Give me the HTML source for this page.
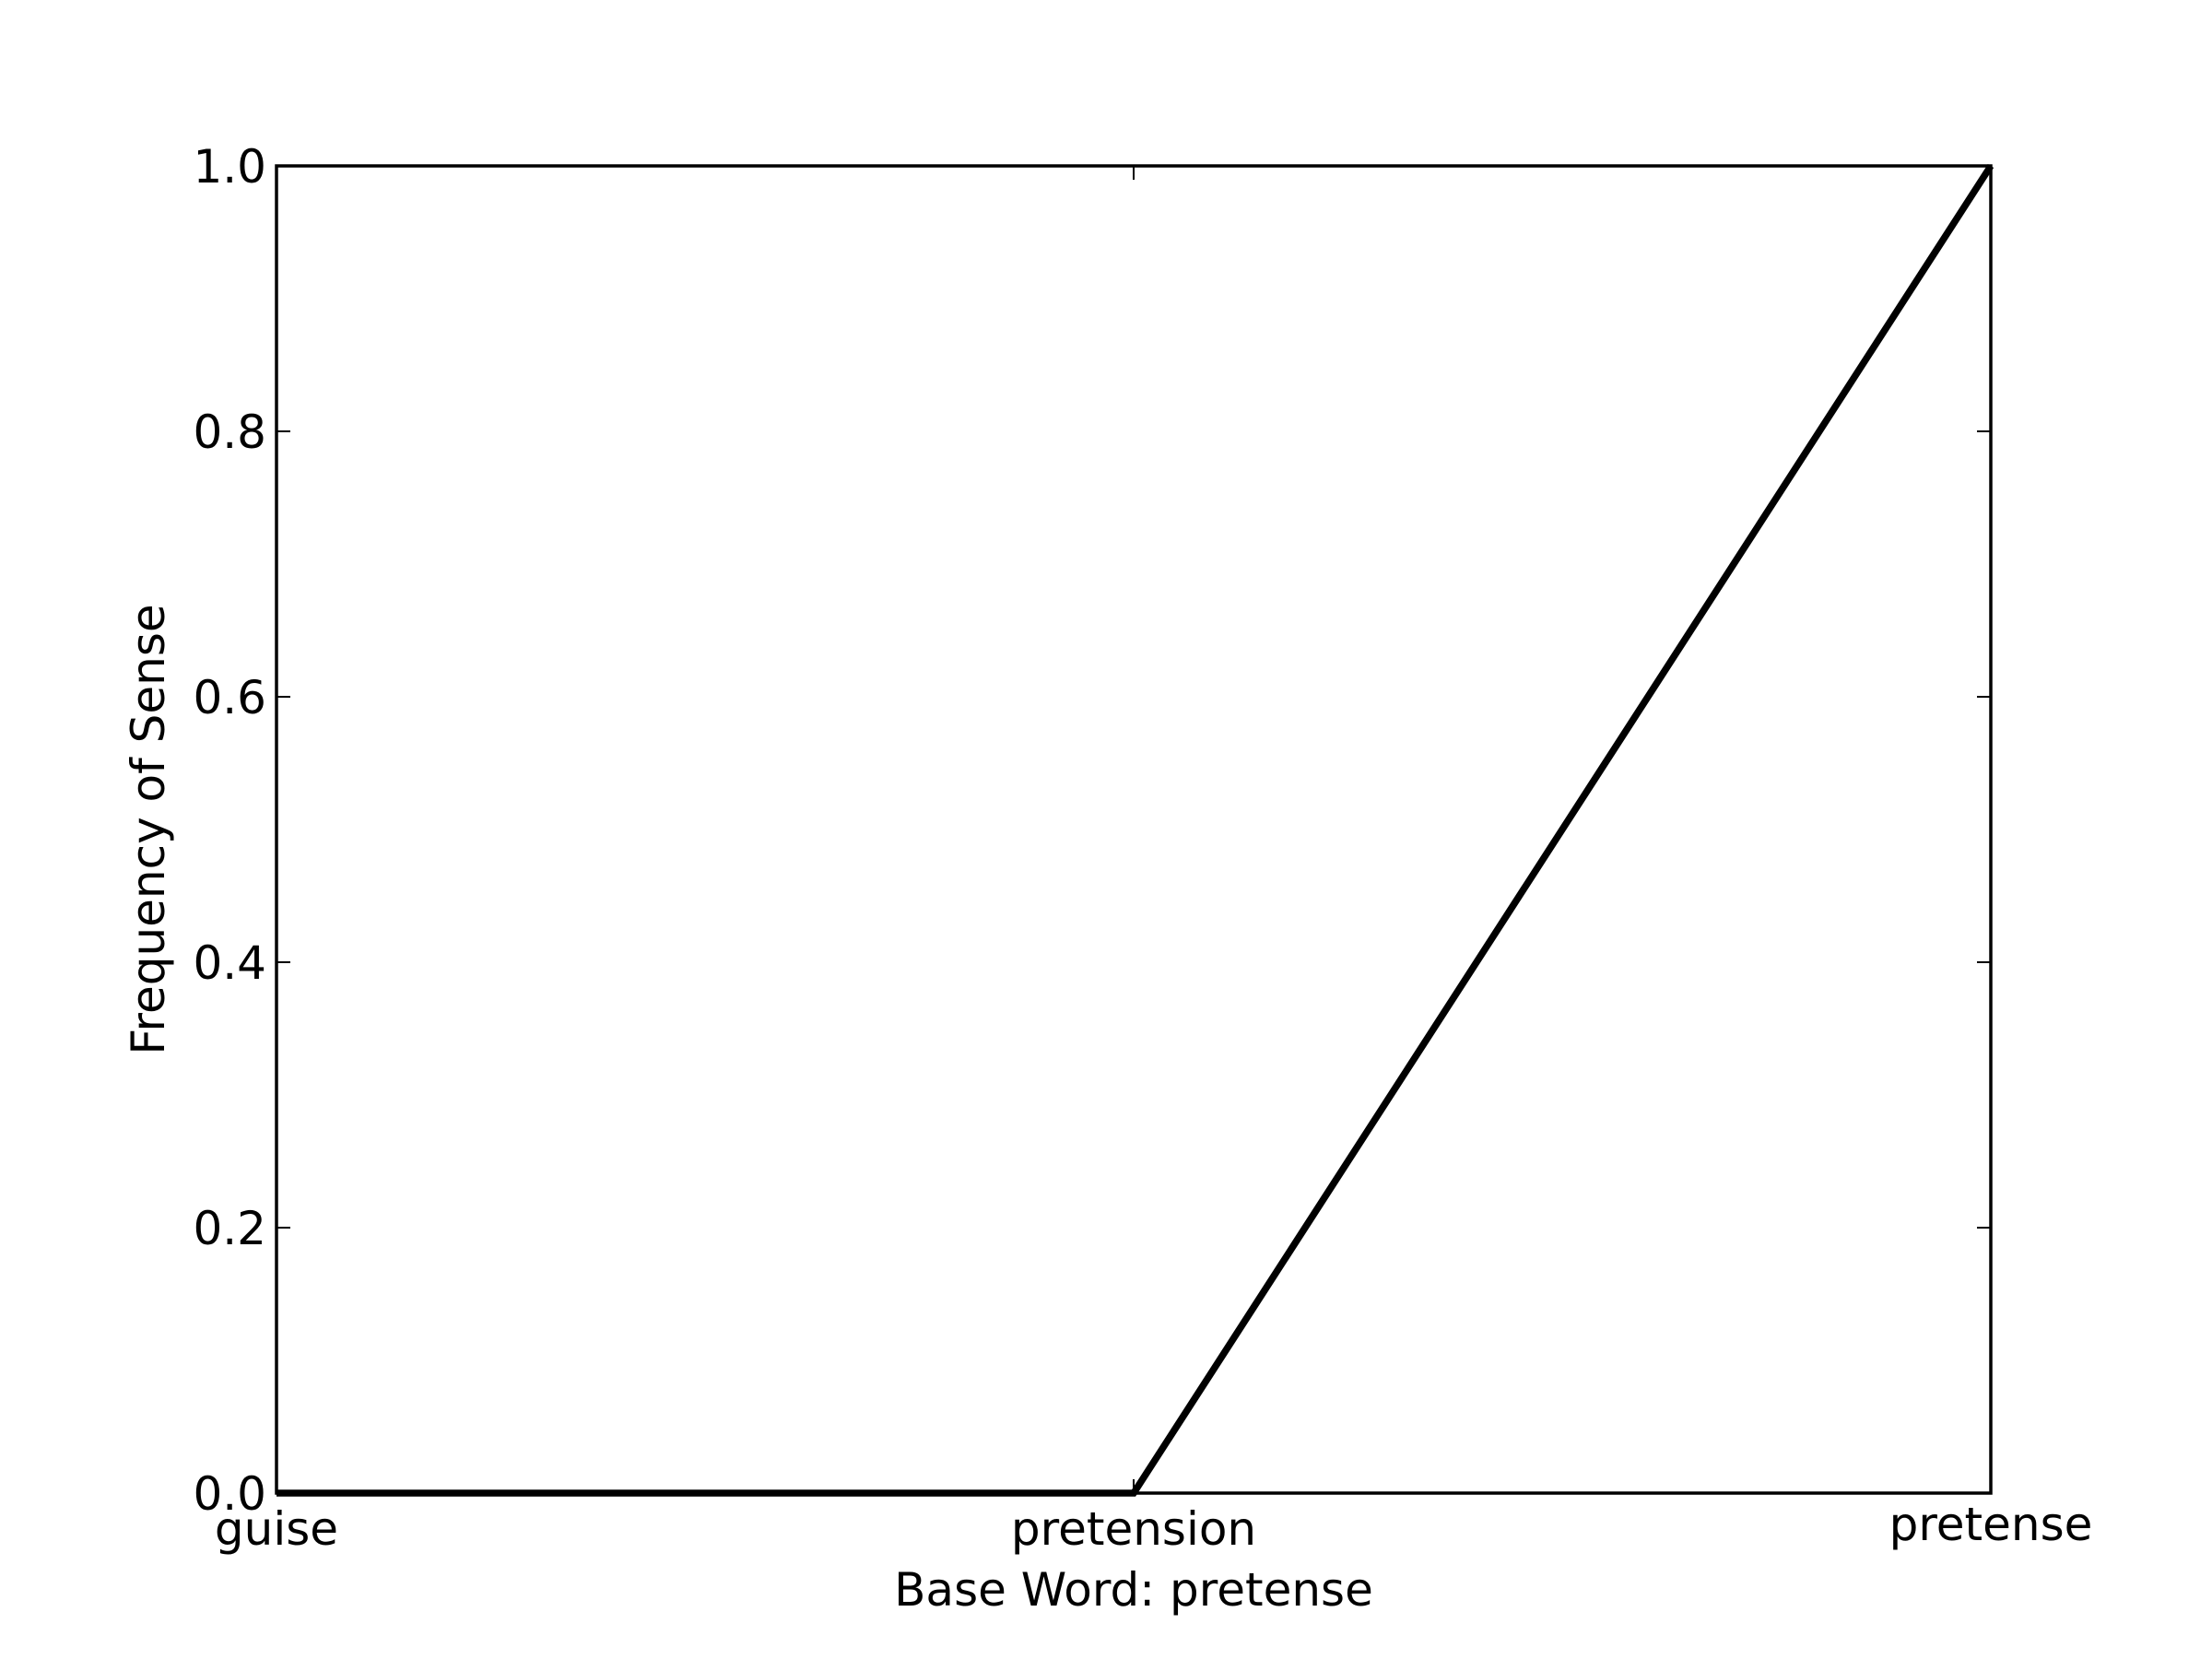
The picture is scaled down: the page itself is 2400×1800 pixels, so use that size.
<!DOCTYPE html>
<html><head><meta charset="utf-8"><style>
html,body{margin:0;padding:0;background:#fff;}
svg{display:block;font-family:"DejaVu Sans","Liberation Sans",sans-serif;}
</style></head><body>
<svg id="chart" width="2400" height="1800" xmlns="http://www.w3.org/2000/svg">
<rect x="0" y="0" width="2400" height="1800" fill="#fff"/>
<g id="ticks"></g>
<g id="labels"></g>
<polyline id="series" fill="none" stroke="#000" stroke-width="7.5" stroke-linejoin="miter"/>
<rect x="300" y="180" width="1860" height="1440" fill="none" stroke="#000" stroke-width="3.5"/>
<text x="1230" y="1742" font-size="50" text-anchor="middle">Base Word: pretense</text>
<text transform="translate(178,900) rotate(-90)" font-size="50" text-anchor="middle">Frequency of Sense</text>
</svg>
<script>
const categories = ["guise", "pretension", "pretense"];
const values = [0, 0, 1];
const yTicks = [0, 0.2, 0.4, 0.6, 0.8, 1.0];
const yTickLabels = ["0.0", "0.2", "0.4", "0.6", "0.8", "1.0"];

const L = 300, R = 2160, T = 180, B = 1620;
const xs = i => L + (R - L) * i / (categories.length - 1);
const ys = v => B - (B - T) * v;
const NS = "http://www.w3.org/2000/svg";
const ticks = document.getElementById("ticks");
const labels = document.getElementById("labels");
function line(x1, y1, x2, y2) {
  const l = document.createElementNS(NS, "line");
  l.setAttribute("x1", x1); l.setAttribute("y1", y1);
  l.setAttribute("x2", x2); l.setAttribute("y2", y2);
  l.setAttribute("stroke", "#000"); l.setAttribute("stroke-width", "2");
  
  
  ticks.appendChild(l);
}
yTicks.forEach((v, i) => {
  const y = ys(v);
  line(L, y, L + 15, y);
  line(R, y, R - 15, y);
  const t = document.createElementNS(NS, "text");
  t.setAttribute("x", 289); t.setAttribute("y", y + 18);
  t.setAttribute("font-size", "50"); t.setAttribute("text-anchor", "end");
  t.textContent = yTickLabels[i];
  
  
  labels.appendChild(t);
});
categories.forEach((c, i) => {
  const x = xs(i);
  line(x, B, x, B - 15);
  line(x, T, x, T + 15);
  const t = document.createElementNS(NS, "text");
  t.setAttribute("x", x);
  t.setAttribute("y", c === "pretense" ? 1671 : 1676);
  t.setAttribute("font-size", "50"); t.setAttribute("text-anchor", "middle");
  t.textContent = c;
  
  
  labels.appendChild(t);
});
document.getElementById("series").setAttribute("points",
  values.map((v, i) => xs(i) + "," + ys(v)).join(" "));
</script>
</body></html>
